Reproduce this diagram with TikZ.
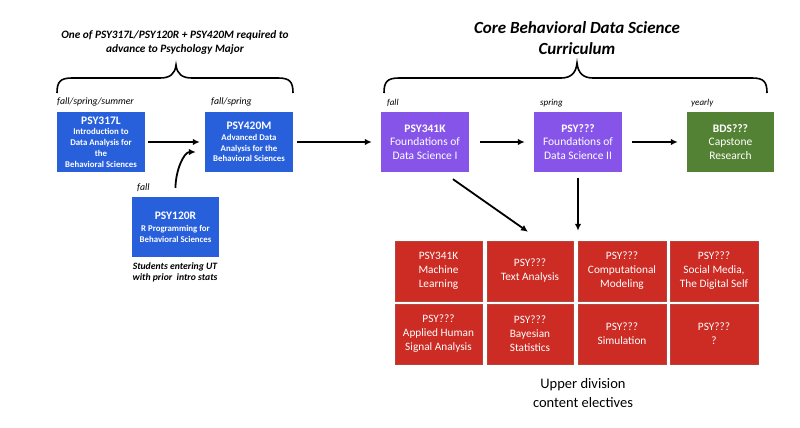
\documentclass[tikz,border=0pt]{standalone}
\usepackage{fontspec}
\setmainfont{Carlito}
\usetikzlibrary{arrows.meta,calc}
\definecolor{cblue}{RGB}{40,96,220}
\definecolor{cpurple}{RGB}{134,84,232}
\definecolor{cgreen}{RGB}{84,130,53}
\definecolor{cred}{RGB}{204,44,36}
\tikzset{
  box/.style={rectangle, minimum width=88pt, minimum height=60pt, inner sep=1pt, text=white, align=center},
  bluebox/.style={box, fill=cblue, font=\fontsize{8.8}{10.8}\selectfont\bfseries},
  purplebox/.style={box, fill=cpurple, font=\fontsize{11.5}{13.5}\selectfont},
  greenbox/.style={box, fill=cgreen, font=\fontsize{11.5}{13.5}\selectfont},
  redbox/.style={box, fill=cred, draw=cred!70!gray, line width=0.4pt, minimum height=60pt, font=\fontsize{11.3}{14}\selectfont},
  term/.style={anchor=west, inner sep=0pt, font=\fontsize{9.8}{11}\selectfont\itshape},
  arr/.style={line width=1.8pt, -{Latex[length=7pt,width=6.5pt]}},
  bracepath/.style={line width=1.6pt},
  titlefont/.style={align=center, inner sep=0pt, font=\fontsize{11.3}{14}\selectfont\bfseries\itshape},
}
\newcommand{\codeA}[1]{{\fontsize{11.5}{11}\selectfont\bfseries #1}}
\begin{document}
\begin{tikzpicture}[x=1pt,y=-1pt]
\useasboundingbox[fill=white] (0,0) rectangle (800,428);

% titles
\node[titlefont] (t1) at (175,42) {One of PSY317L/PSY120R + PSY420M required to\\advance to Psychology Major};
\node[titlefont, font=\fontsize{17}{21}\selectfont\bfseries\itshape] (t2) at (577,38) {Core Behavioral Data Science\\Curriculum};

% braces
\draw[bracepath] (57,93) .. controls (57,82) and (60,78) .. (72,78) -- (160,78)
  .. controls (170,78) and (175,74) .. (176,65)
  .. controls (177,74) and (182,78) .. (192,78) -- (278,78)
  .. controls (290,78) and (293,82) .. (293,93);
\draw[bracepath] (384,93) .. controls (384,82) and (387,78) .. (399,78) -- (561,78)
  .. controls (571,78) and (576,73) .. (577,63)
  .. controls (578,73) and (583,78) .. (593,78) -- (752,78)
  .. controls (764,78) and (767,82) .. (767,93);

% term labels
\node[term] (l1) at (57,102) {fall/spring/summer};
\node[term] (l2) at (211,102) {fall/spring};
\node[term] (l3) at (137,188) {fall};
\node[term, font=\fontsize{9}{10}\selectfont\itshape] (l4) at (387,103) {fall};
\node[term, font=\fontsize{9}{10}\selectfont\itshape] (l5) at (540,103) {spring};
\node[term, font=\fontsize{9}{10}\selectfont\itshape] (l6) at (691,103) {yearly};

% blue boxes
\node[bluebox] (p317) at (101,142) {\codeA{PSY317L}\\Introduction to\\Data Analysis for\\the\\Behavioral Sciences};
\node[bluebox] (p420) at (249,142) {\codeA{PSY420M}\\Advanced Data\\Analysis for the\\Behavioral Sciences};
\node[bluebox, minimum width=87pt] (p120) at (175.5,227) {\codeA{PSY120R}\\[1pt]R Programming for\\Behavioral Sciences};
\node[align=center, inner sep=0pt, font=\fontsize{9.7}{11}\selectfont\bfseries\itshape] (stud) at (175,272.5) {Students entering UT\\with prior~ intro stats};

% core
\node[purplebox] (p341) at (425,142) {\textbf{PSY341K}\\Foundations of\\Data Science I};
\node[purplebox] (fds2) at (578,142) {\textbf{PSY???}\\Foundations of\\Data Science II};
\node[greenbox, minimum width=87pt] (bds) at (730.5,142) {\textbf{BDS???}\\Capstone\\Research};

% electives
\node[redbox, minimum width=87pt] (e1) at (438.5,271) {PSY341K\\Machine\\Learning};
\node[redbox, minimum width=86pt] (e2) at (530,271) {PSY???\\Text Analysis};
\node[redbox, minimum width=88pt] (e3) at (622,271) {PSY???\\Computational\\Modeling};
\node[redbox, minimum width=88pt] (e4) at (714,271) {PSY???\\Social Media,\\The Digital Self};
\node[redbox, minimum width=87pt] (e5) at (438.5,334) {PSY???\\Applied Human\\Signal Analysis};
\node[redbox, minimum width=86pt] (e6) at (530,334) {PSY???\\Bayesian\\Statistics};
\node[redbox, minimum width=88pt] (e7) at (622,334) {PSY???\\Simulation};
\node[redbox, minimum width=88pt] (e8) at (714,334) {PSY???\\?};

\node[align=center, inner sep=0pt, font=\fontsize{14.5}{19}\selectfont] (ude) at (583,393) {Upper division\\content electives};

% arrows
\draw[arr, shorten <=3pt, shorten >=5pt] (p317.east) -- (p420.west);
\draw[arr, shorten <=9pt] (p120.north) .. controls +(0,-26) and +(-12,0) .. ($(p420.west)+(-9,10)$);
\draw[arr, shorten <=4pt, shorten >=9pt] (p420.east) -- (p341.west);
\draw[arr, shorten <=11pt, shorten >=9pt] (p341.east) -- (fds2.west);
\draw[arr, shorten <=10pt, shorten >=9pt] (fds2.east) -- (bds.west);
\draw[arr] ($(p341.south)+(28,7)$) -- ($(e2.north)+(-2,-9)$);
\draw[arr, shorten <=6pt, shorten >=10pt] (fds2.south) -- (fds2.south |- e3.north);
\end{tikzpicture}
\end{document}
